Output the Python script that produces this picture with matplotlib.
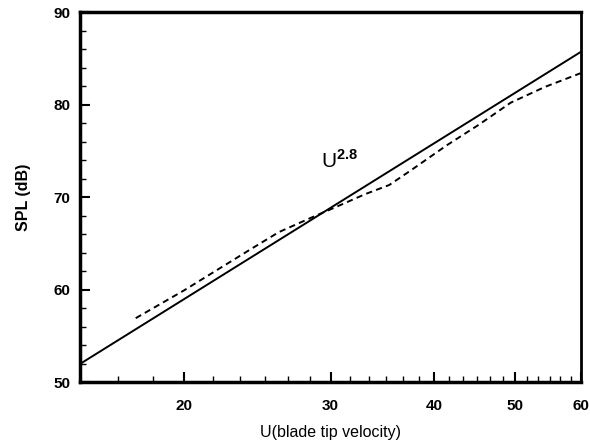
import numpy as np
import matplotlib
matplotlib.use("Agg")
import matplotlib.pyplot as plt
from matplotlib.ticker import FixedLocator, NullFormatter

# data
fit_u = [15, 60]
fit_spl = [51.95, 85.7]
meas_u = [17.5, 20, 24, 26, 28.5, 30.6, 33, 35.3, 37.5, 41.4, 45.2, 49.4, 54.3, 60]
meas_spl = [56.9, 59.9, 64.3, 66.2, 67.8, 69.0, 70.3, 71.3, 72.9, 75.6, 77.8, 80.2, 81.9, 83.4]
xticks = [20, 30, 40, 50, 60]
yticks = [50, 60, 70, 80, 90]

plt.rcParams['font.family'] = ['Liberation Sans', 'DejaVu Sans']
plt.rcParams['mathtext.fontset'] = 'custom'
plt.rcParams['mathtext.rm'] = 'Liberation Sans'
plt.rcParams['mathtext.bf'] = 'Liberation Sans:bold'

fig = plt.figure(figsize=(5.9, 4.46), dpi=100)
ax = fig.add_axes([80/590, 64/446, 501/590, 370/446])

ax.plot(fit_u, fit_spl, color='black', lw=1.4)
ax.plot(meas_u, meas_spl, color='black', lw=1.4, ls=(0, (3.2, 2.2)))

ax.set_xscale('log')
ax.set_xlim(15, 60)
ax.set_ylim(50, 90)

ax.xaxis.set_major_locator(FixedLocator(xticks))
ax.xaxis.set_minor_locator(FixedLocator(list(np.arange(15, 60.01, 5/3))))
ax.xaxis.set_minor_formatter(NullFormatter())
ax.set_xticklabels([str(t) for t in xticks])
ax.yaxis.set_major_locator(FixedLocator(yticks))
ax.yaxis.set_minor_locator(FixedLocator(list(range(50, 91, 2))))

ax.tick_params(which='major', direction='in', length=7, width=1.5,
               labelsize=11)
ax.tick_params(axis='x', which='major', pad=12)
ax.tick_params(axis='y', which='major', pad=7)
ax.tick_params(which='minor', direction='in', length=4, width=1.0)
ax.tick_params(axis='x', which='both', top=False)
ax.tick_params(axis='y', which='both', right=False)
for lab in ax.get_xticklabels() + ax.get_yticklabels():
    lab.set_fontweight('bold')

for side in ['left', 'bottom', 'top']:
    ax.spines[side].set_linewidth(2.5)
ax.spines['right'].set_linewidth(2.0)

ax.set_xlabel('U(blade tip velocity)', fontsize=11.5, labelpad=9)
ax.set_ylabel('SPL (dB)', fontsize=11.5, fontweight='bold', labelpad=16)

ax.text(29.2, 74.0, r'U$^{\mathbf{2.8}}$', fontsize=15, ha='left', va='center')

fig.savefig('out.png', dpi=100)
